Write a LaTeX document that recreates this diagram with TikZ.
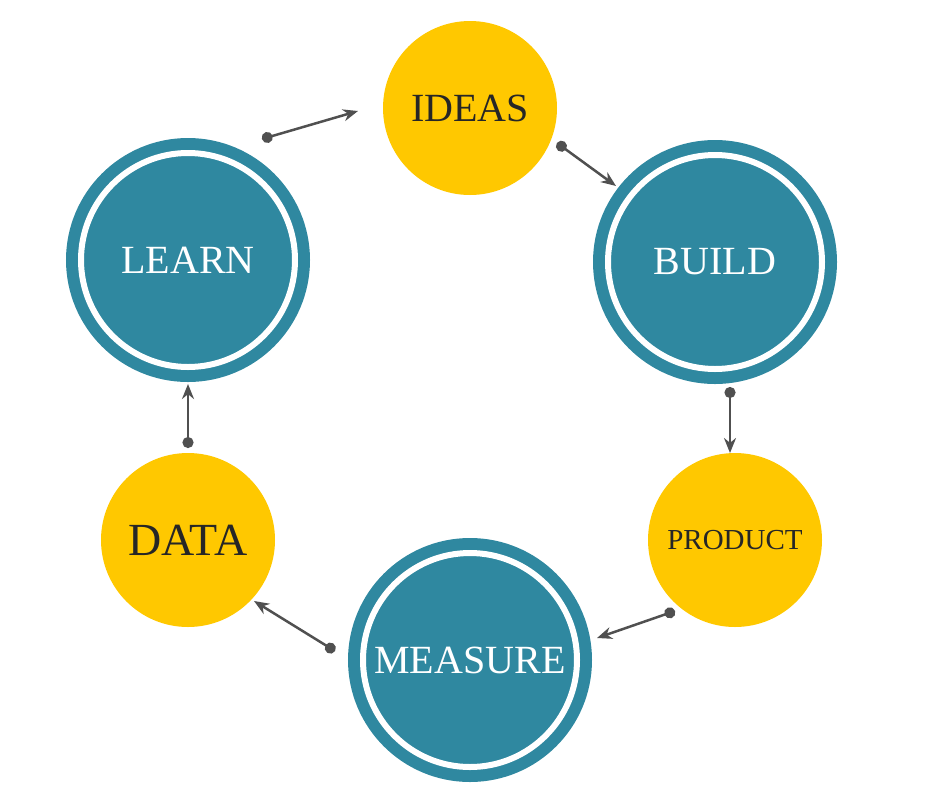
\documentclass[tikz,border=0pt]{standalone}
\usepackage{fontspec}
\setmainfont{Liberation Serif}
\usetikzlibrary{arrows.meta}
\definecolor{tealc}{HTML}{2F88A0}
\definecolor{yellowc}{HTML}{FFC800}
\definecolor{arrowc}{HTML}{505050}
\tikzset{
  stage/.style={circle, fill=tealc, draw=tealc, double=white, double distance=6pt,
    line width=12pt, minimum size=214pt, inner sep=0pt, text=white, font=\fontsize{40}{40}\selectfont},
  idea/.style={circle, fill=yellowc, minimum size=174pt, inner sep=0pt, text=black!85,
    font=\fontsize{40}{40}\selectfont},
  link/.style={arrowc, line width=2.5pt, {Circle[length=11pt]}-{Stealth[length=15pt,width=12pt]}}
}
\begin{document}
\begin{tikzpicture}[x=1pt,y=-1pt]
  \useasboundingbox (0,0) rectangle (940,788);

  % Nodes
  \node[idea] (ideas) at (470,108) {IDEAS};
  \node[stage] (build) at (715,262) {BUILD};
  \node[idea, font=\fontsize{29}{29}\selectfont] (product) at (735,540) {PRODUCT};
  \node[stage] (measure) at (470,660) {MEASURE};
  \node[idea, font=\fontsize{46}{46}\selectfont] (data) at (188,540) {DATA};
  \node[stage] (learn) at (188,260) {LEARN};

  % Arrow ends
  \coordinate (l_out) at (262,139);  \coordinate (i_in) at (358,111);
  \coordinate (i_out) at (557,143);  \coordinate (b_in) at (616,186);
  \coordinate (b_out) at (730,387);  \coordinate (p_in) at (730,453);
  \coordinate (p_out) at (675,611);  \coordinate (m_in) at (597,638);
  \coordinate (m_out) at (335,651);  \coordinate (d_in) at (254,601);
  \coordinate (d_out) at (188,448);  \coordinate (l_in) at (188,384);

  % Edges
  \draw[link] (l_out) -- (i_in);
  \draw[link] (i_out) -- (b_in);
  \draw[link] (b_out) -- (p_in);
  \draw[link] (p_out) -- (m_in);
  \draw[link] (m_out) -- (d_in);
  \draw[link] (d_out) -- (l_in);
\end{tikzpicture}
\end{document}
